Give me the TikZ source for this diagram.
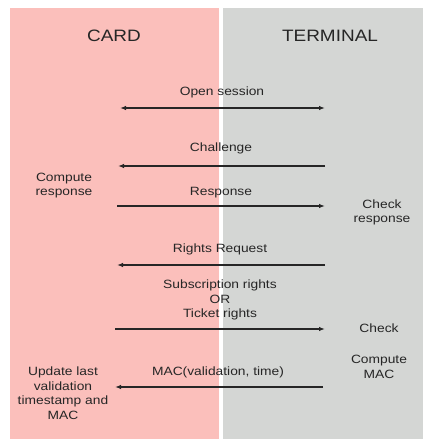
\documentclass[tikz,border=0pt]{standalone}
\usepackage{fontspec}
\setmainfont[FakeStretch=1.15]{Liberation Sans}
\usetikzlibrary{positioning,arrows.meta}
\definecolor{cardpink}{HTML}{FBBFBB}
\definecolor{termgray}{HTML}{D4D6D4}
\definecolor{inkgray}{HTML}{262626}

\begin{document}
\begin{tikzpicture}[
    x=1pt, y=-1pt,
    every node/.style={font=\fontsize{12}{14.5}\selectfont, text=inkgray, inner sep=0pt},
    lane/.style={draw=none, fill=#1},
    header/.style={font=\fontsize{16.5}{18}\selectfont},
    note/.style={align=center},
    msg/.style={-{Latex[length=6pt,width=4.5pt]}, line width=1.2pt, draw=inkgray},
    both/.style={{Latex[length=6pt,width=4.5pt]}-{Latex[length=6pt,width=4.5pt]}, line width=1.2pt, draw=inkgray},
]
\useasboundingbox (0,0) rectangle (423,439);

% Lanes
\fill[lane=cardpink] (10,8) rectangle (219,439);
\fill[lane=termgray] (223,8) rectangle (423,439);

% Headers
\node[header] (card) at (114,36) {CARD};
\node[header] (term) at (330,36) {TERMINAL};

% Lane end points of the messages
\coordinate (c1) at (120,108); \coordinate (t1) at (325,108);
\coordinate (c2) at (118,166); \coordinate (t2) at (325,166);
\coordinate (c3) at (117,206); \coordinate (t3) at (325,206);
\coordinate (c4) at (117,265); \coordinate (t4) at (325,265);
\coordinate (c5) at (115,329); \coordinate (t5) at (325,329);
\coordinate (c6) at (115,387); \coordinate (t6) at (323,387);

% Message labels
\node (open) at (222,92) {Open session};
\node (chal) at (221,148) {Challenge};
\node (resp) at (221,193) {Response};
\node (rreq) at (220,249) {Rights Request};
\node[note] (rights) at (220,300) {Subscription rights\\OR\\Ticket rights};
\node (mac) at (218,372) {MAC(validation, time)};

% Card side actions
\node[note] (cresp) at (64,185.5) {Compute\\response};
\node[note] (upd) at (63,393) {Update last\\validation\\timestamp and\\MAC};

% Terminal side actions
\node[note] (chkresp) at (382,212.5) {Check\\response};
\node (chk) at (379,328) {Check};
\node[note] (cmac) at (379,367) {Compute\\MAC};

% Messages
\draw[both] (c1) -- (t1);
\draw[msg] (t2) -- (c2);
\draw[msg] (c3) -- (t3);
\draw[msg] (t4) -- (c4);
\draw[msg] (c5) -- (t5);
\draw[msg] (t6) -- (c6);

\end{tikzpicture}
\end{document}
